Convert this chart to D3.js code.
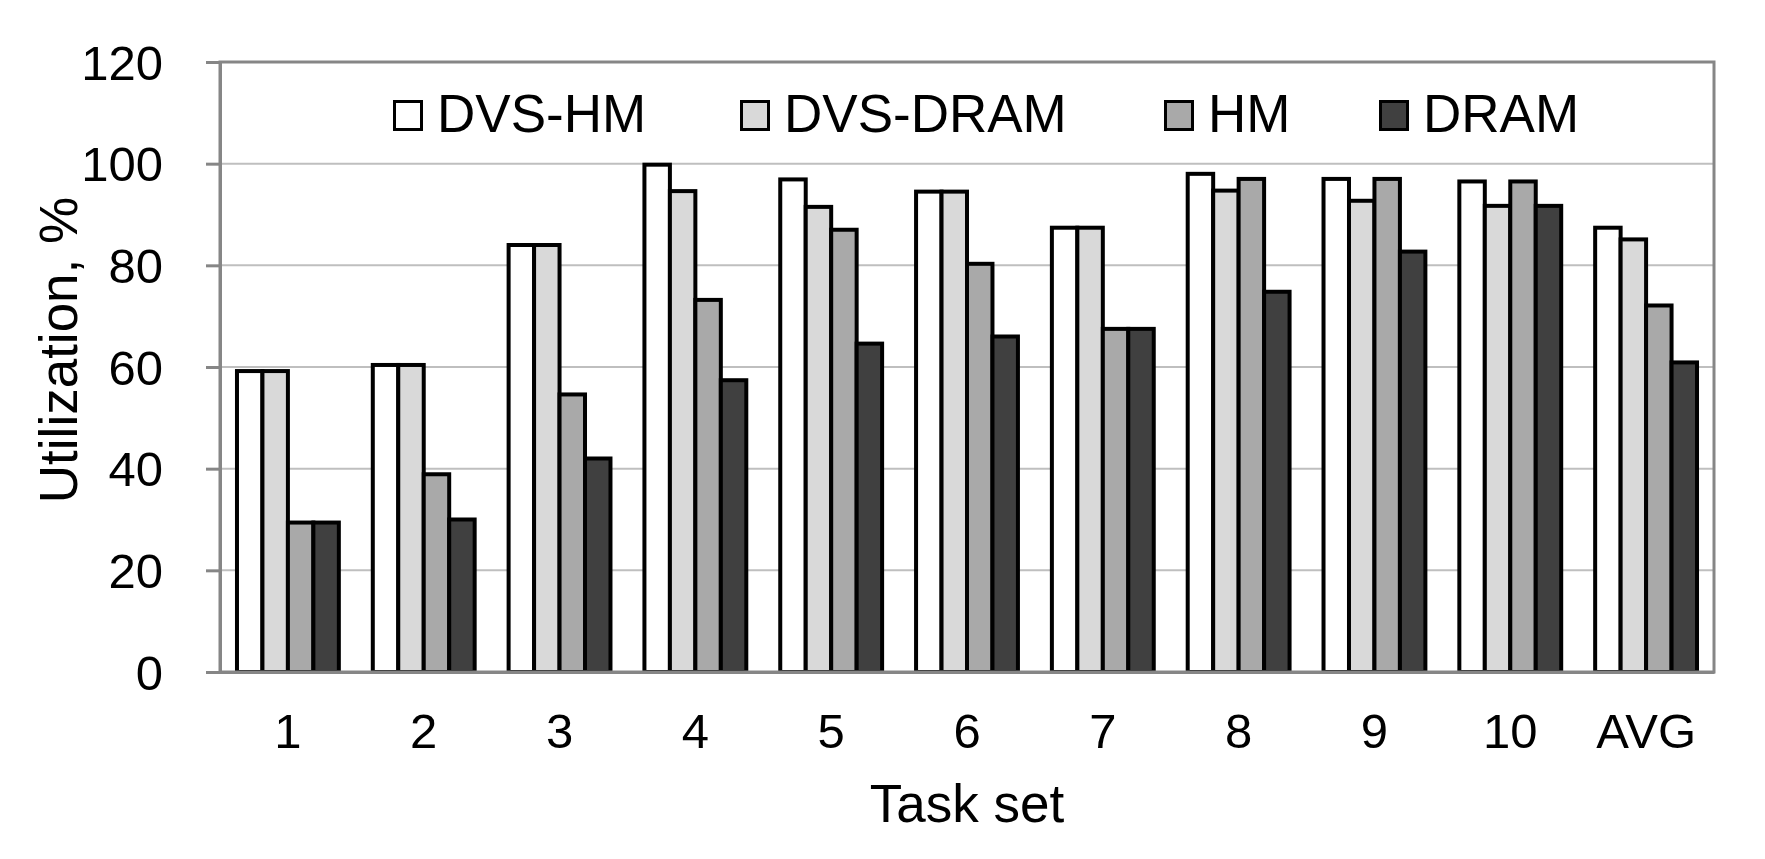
<!DOCTYPE html>
<html>
<head>
<meta charset="utf-8">
<script src="https://cdn.jsdelivr.net/npm/d3@7"></script>
<style>
  html, body { margin: 0; padding: 0; background: #fff; }
  text { font-family: "Liberation Sans", Arial, sans-serif; fill: #000; }
</style>
</head>
<body>
<svg id="chart" width="1765" height="859"></svg>
<script>
const categories = ["1", "2", "3", "4", "5", "6", "7", "8", "9", "10", "AVG"];
const seriesNames = ["DVS-HM", "DVS-DRAM", "HM", "DRAM"];
const dvsHM   = [59.2, 60.4, 84.0, 99.8, 96.9, 94.5, 87.4, 98.0, 97.0, 96.5, 87.4];
const dvsDRAM = [59.2, 60.4, 84.0, 94.6, 91.5, 94.5, 87.4, 94.7, 92.7, 91.7, 85.1];
const hm      = [29.4, 38.9, 54.6, 73.2, 87.0, 80.3, 67.5, 97.0, 97.0, 96.5, 72.1];
const dram    = [29.4, 30.0, 42.0, 57.4, 64.6, 66.0, 67.5, 74.8, 82.7, 91.7, 60.9];
const yTicks  = [0, 20, 40, 60, 80, 100, 120];
const colors  = ["#ffffff", "#d9d9d9", "#a9a9a9", "#404040"];

const values = [dvsHM, dvsDRAM, hm, dram];

const svg = d3.select("#chart");
const pLeft = 220, pRight = 1714, pTop = 62, pBottom = 672;

const x = d3.scaleBand().domain(categories).range([pLeft, pRight])
  .paddingInner(0.25).paddingOuter(0.125);
const xs = d3.scaleBand().domain(seriesNames).range([0, x.bandwidth()]);
const y = d3.scaleLinear().domain([0, 120]).range([pBottom, pTop]);

// gridlines
svg.append("g").selectAll("line").data(yTicks.filter(t => t > 0 && t < 120)).join("line")
  .attr("x1", pLeft).attr("x2", pRight)
  .attr("y1", d => y(d)).attr("y2", d => y(d))
  .attr("stroke", "#bfbfbf").attr("stroke-width", 2);

// bars
const groups = svg.append("g").selectAll("g").data(categories).join("g")
  .attr("transform", d => `translate(${x(d)},0)`);
groups.selectAll("rect").data((c, i) => seriesNames.map((s, k) => ({s, k, v: values[k][i]}))).join("rect")
  .attr("x", d => xs(d.s))
  .attr("width", xs.bandwidth())
  .attr("y", d => y(d.v))
  .attr("height", d => y(0) - y(d.v))
  .attr("fill", d => colors[d.k])
  .attr("stroke", "#000").attr("stroke-width", 4);

// plot border
svg.append("rect").attr("x", pLeft).attr("y", pTop)
  .attr("width", pRight - pLeft).attr("height", pBottom - pTop)
  .attr("fill", "none").attr("stroke", "#868686").attr("stroke-width", 3);

// y axis
const yAxis = svg.append("g").attr("transform", `translate(${pLeft},0)`)
  .call(d3.axisLeft(y).tickValues(yTicks).tickSize(14).tickPadding(43));
yAxis.select(".domain").attr("stroke", "#868686").attr("stroke-width", 3);
yAxis.selectAll(".tick line").attr("stroke", "#868686").attr("stroke-width", 3);
yAxis.selectAll(".tick text").attr("font-size", 49).attr("font-family", "Liberation Sans, Arial, sans-serif")
  .attr("fill", "#000").attr("dy", "0.35em");

// x axis
const xAxis = svg.append("g").attr("transform", `translate(0,${pBottom})`)
  .call(d3.axisBottom(x).tickSize(0).tickPadding(0));
xAxis.select(".domain").attr("stroke", "#868686").attr("stroke-width", 3);
xAxis.selectAll(".tick text").attr("font-size", 49).attr("font-family", "Liberation Sans, Arial, sans-serif")
  .attr("fill", "#000").attr("dy", null).attr("y", 76);

// axis titles
svg.append("text").attr("x", (pLeft + pRight) / 2).attr("y", 822)
  .attr("text-anchor", "middle").attr("font-size", 53).text("Task set");
svg.append("text").attr("transform", "translate(77,350) rotate(-90)")
  .attr("text-anchor", "middle").attr("font-size", 53).text("Utilization, %");

// legend
const legendX = [393, 740, 1164, 1379];
const lg = svg.append("g").selectAll("g").data(seriesNames).join("g")
  .attr("transform", (d, i) => `translate(${legendX[i]},100)`);
lg.append("rect").attr("x", 1.5).attr("y", 1.5).attr("width", 27).attr("height", 28)
  .attr("fill", (d, i) => colors[i]).attr("stroke", "#000").attr("stroke-width", 3);
lg.append("text").attr("x", 44).attr("y", 32).attr("font-size", 53).text(d => d);
</script>
</body>
</html>
